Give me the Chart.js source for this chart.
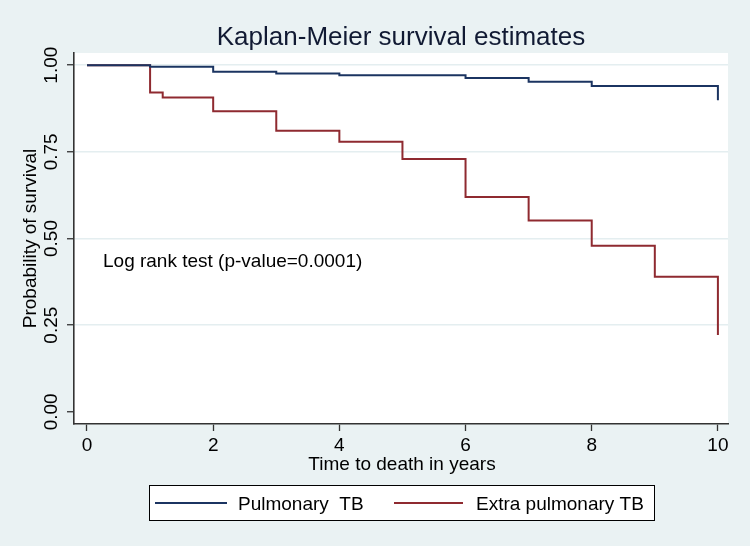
<!DOCTYPE html>
<html>
<head>
<meta charset="utf-8">
<script src="https://cdn.jsdelivr.net/npm/chart.js@4/dist/chart.umd.min.js"></script>
<style>
html,body{margin:0;padding:0;background:#eaf2f3;}
canvas{display:block;}
</style>
</head>
<body>
<canvas id="c" width="750" height="546"></canvas>
<script>
// ---- data ----
const pulmTimes = [0, 1, 2, 3, 4, 6, 7, 8, 10];
const pulmSurv  = [1.000, 0.995, 0.981, 0.976, 0.971, 0.963, 0.952, 0.940, 0.899];
const extTimes  = [0, 1, 1.2, 2, 3, 4, 5, 6, 7, 8, 9, 10];
const extSurv   = [1.000, 0.921, 0.907, 0.867, 0.811, 0.779, 0.729, 0.620, 0.552, 0.479, 0.390, 0.222];
const seriesNames = ['Pulmonary  TB', 'Extra pulmonary TB'];
const xTickValues = [0, 2, 4, 6, 8, 10];
const yTickValues = [0, 0.25, 0.5, 0.75, 1];
const yTickLabels = ['0.00', '0.25', '0.50', '0.75', '1.00'];
const titleText = 'Kaplan-Meier survival estimates';
const xTitle = 'Time to death in years';
const yTitle = 'Probability of survival';
const noteText = 'Log rank test (p-value=0.0001)';

const FONT = '"Liberation Sans", Arial, sans-serif';
const BLUE = '#1b3461';
const RED = '#8f2a30';

const toPts = (xs, ys) => xs.map((x, i) => ({x: x, y: ys[i]}));

const decor = {
  id: 'decor',
  beforeDraw(chart) {
    const ctx = chart.ctx, a = chart.chartArea;
    ctx.save();
    ctx.fillStyle = '#eaf2f3';
    ctx.fillRect(0, 0, chart.width, chart.height);
    ctx.fillStyle = '#ffffff';
    ctx.fillRect(a.left, a.top, a.right - a.left, a.bottom - a.top);
    ctx.restore();
  },
  afterDraw(chart) {
    const ctx = chart.ctx, a = chart.chartArea;
    const ys = chart.scales.y;
    ctx.save();
    ctx.fillStyle = '#000';
    // title
    ctx.font = '26px ' + FONT;
    ctx.fillStyle = '#111a33';
    ctx.textAlign = 'center';
    ctx.textBaseline = 'alphabetic';
    ctx.fillText(titleText, (a.left + a.right) / 2, 45);
    ctx.fillStyle = '#000';
    // y tick labels (rotated)
    ctx.font = '19px ' + FONT;
    yTickValues.forEach((v, i) => {
      const py = ys.getPixelForValue(v);
      ctx.save();
      ctx.translate(57, py);
      ctx.rotate(-Math.PI / 2);
      ctx.textAlign = 'center';
      ctx.fillText(yTickLabels[i], 0, 0);
      ctx.restore();
    });
    // y title
    ctx.save();
    ctx.translate(36, (a.top + a.bottom) / 2);
    ctx.rotate(-Math.PI / 2);
    ctx.textAlign = 'center';
    ctx.fillText(yTitle, 0, 0);
    ctx.restore();
    // x title
    ctx.textAlign = 'center';
    ctx.fillText(xTitle, 402, 470);
    // note
    ctx.textAlign = 'left';
    ctx.fillText(noteText, 103, 267);
    // legend
    ctx.fillStyle = '#fff';
    ctx.fillRect(149.5, 485.5, 505, 35);
    ctx.strokeStyle = '#000';
    ctx.lineWidth = 1;
    ctx.strokeRect(149.5, 485.5, 505, 35);
    const items = [
      {x0: 155, x1: 227, tx: 238, c: chart.data.datasets[0].borderColor, t: chart.data.datasets[0].label},
      {x0: 394, x1: 463, tx: 476, c: chart.data.datasets[1].borderColor, t: chart.data.datasets[1].label}
    ];
    items.forEach(it => {
      ctx.strokeStyle = it.c;
      ctx.lineWidth = 2;
      ctx.beginPath();
      ctx.moveTo(it.x0, 503);
      ctx.lineTo(it.x1, 503);
      ctx.stroke();
      ctx.fillStyle = '#000';
      ctx.textAlign = 'left';
      ctx.fillText(it.t, it.tx, 510);
    });
    ctx.restore();
  }
};

new Chart(document.getElementById('c'), {
  type: 'line',
  data: {
    datasets: [
      {label: seriesNames[0], data: toPts(pulmTimes, pulmSurv), borderColor: BLUE, borderWidth: 2, stepped: 'before', pointRadius: 0, fill: false},
      {label: seriesNames[1], data: toPts(extTimes, extSurv), borderColor: RED, borderWidth: 2, stepped: 'before', pointRadius: 0, fill: false}
    ]
  },
  options: {
    responsive: false,
    animation: false,
    layout: {padding: {left: 0, right: 22, top: 53, bottom: 0}},
    plugins: {legend: {display: false}, title: {display: false}, tooltip: {enabled: false}},
    scales: {
      x: {
        type: 'linear',
        min: -0.206, max: 10.16,
        afterBuildTicks: s => { s.ticks = xTickValues.map(v => ({value: v})); },
        afterFit: s => { s.height = 122; },
        grid: {display: true, drawOnChartArea: false, drawTicks: true, tickLength: 7, tickColor: '#333', tickWidth: 1.3},
        border: {display: true, color: '#333', width: 1.6},
        ticks: {color: '#000', font: {family: FONT, size: 19}, padding: 3, maxRotation: 0, autoSkip: false, callback: v => String(v)}
      },
      y: {
        type: 'linear',
        min: -0.035, max: 1.035,
        afterBuildTicks: s => { s.ticks = yTickValues.map(v => ({value: v})); },
        afterFit: s => { s.width = 74; },
        grid: {
          color: ctx => (ctx.tick && ctx.tick.value === 0) ? 'rgba(0,0,0,0)' : '#e4eef0',
          lineWidth: 1.5,
          drawTicks: true, tickLength: 7, tickColor: '#333', tickWidth: 1.3
        },
        border: {display: true, color: '#333', width: 1.6},
        ticks: {display: false}
      }
    }
  },
  plugins: [decor]
});
</script>
</body>
</html>
